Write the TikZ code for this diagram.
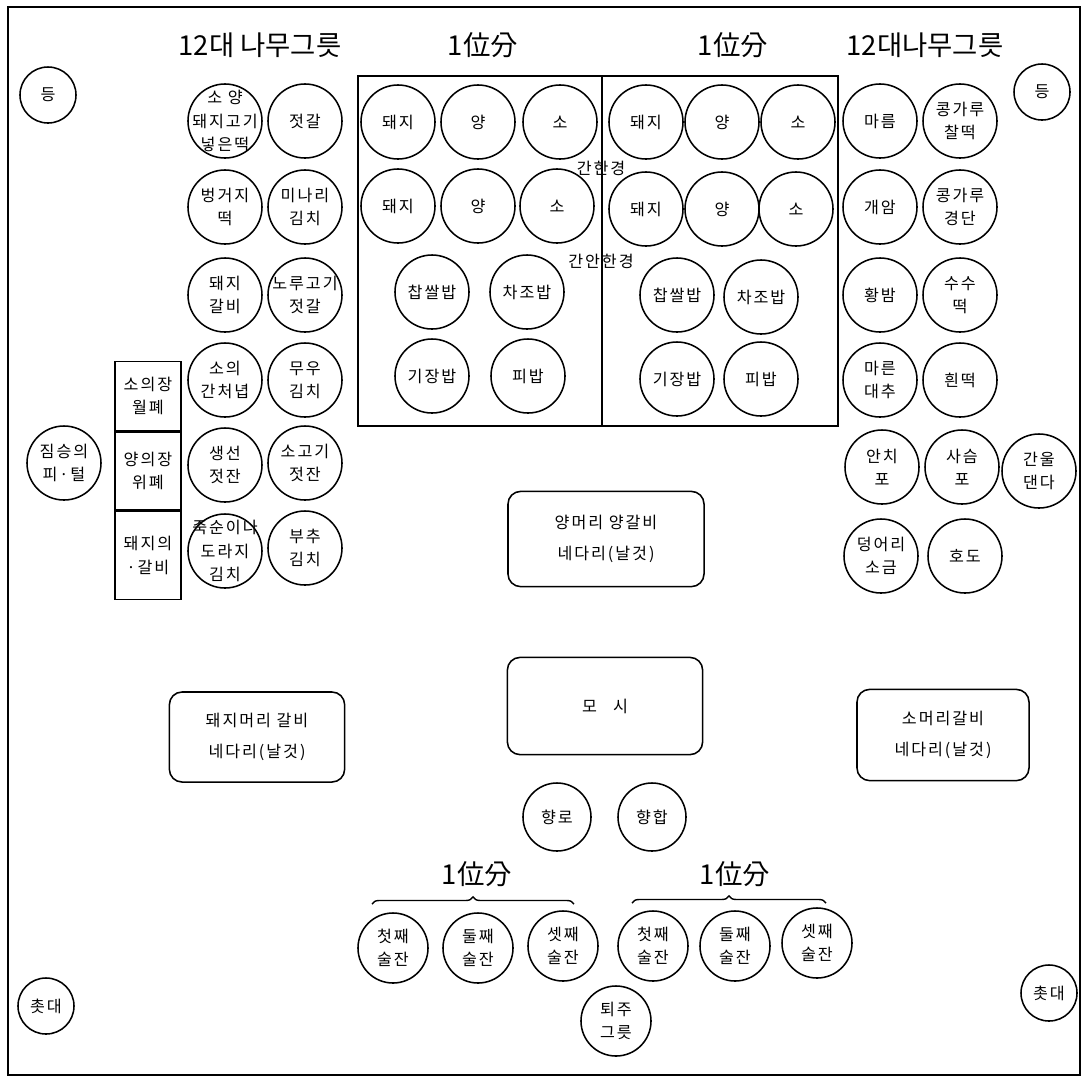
\documentclass[tikz,border=0pt]{standalone}
\usepackage{fontspec}
\setmainfont{Noto Sans CJK KR}
\newfontfamily\dishfont[LetterSpace=12]{Noto Sans CJK KR}
\usetikzlibrary{positioning,decorations.pathreplacing}

\begin{document}
\begin{tikzpicture}[x=0.025cm,y=-0.025cm,
  dish/.style={circle,draw,line width=1.1pt,minimum size=1.85cm,inner sep=-16pt,align=center,font=\dishfont\fontsize{11.5}{16.5}\selectfont},
  lamp/.style={dish,minimum size=1.4cm},
  cup/.style={dish,minimum size=1.75cm},
  tray/.style={draw,line width=1.1pt,rounded corners=9pt,align=center,font=\dishfont\fontsize{11.5}{22}\selectfont},
  organ/.style={draw,line width=1.1pt,minimum width=1.65cm,inner sep=0pt,align=center,font=\dishfont\fontsize{11.5}{16.5}\selectfont},
  head/.style={font=\fontsize{19.5}{22}\selectfont},
  note/.style={font=\dishfont\fontsize{11.5}{13}\selectfont,inner sep=1pt}]
\useasboundingbox (0,0) rectangle (1092,1081);
\draw[line width=1.1pt] (8,7) rectangle (1080,1075);
%
\node[head] (h1) at (260,45){12대 나무그릇};
\node[head] (h2) at (483,45){1位分};
\node[head] (h3) at (733,45){1位分};
\node[head] (h4) at (925,45){12대나무그릇};
\node[lamp] (lamp1) at (48,95){등};
\node[lamp] (lamp2) at (1042,92){등};
\node[lamp] (can1) at (46,1006){촛대};
\node[lamp] (can2) at (1049,993){촛대};
%
\node[dish] (a1) at (225,121){소 양\\돼지고기\\넣은떡};
\node[dish] (a2) at (225,207){벙거지\\떡};
\node[dish] (a3) at (225,295){돼지\\갈비};
\node[dish] (a4) at (225,380){소의\\간처녑};
\node[dish] (a5) at (225,465){생선\\젓잔};
\node[dish] (a6) at (225,551){죽순이나\\도라지\\김치};
\node[dish] (b1) at (305,121){젓갈};
\node[dish] (b2) at (305,207){미나리\\김치};
\node[dish] (b3) at (305,295){노루고기\\젓갈};
\node[dish] (b4) at (305,380){무우\\김치};
\node[dish] (b5) at (305,463){소고기\\젓잔};
\node[dish] (b6) at (305,548){부추\\김치};
\node[organ,minimum height=1.72cm] (o1) at (148,396){소의장\\월폐};
\node[organ,minimum height=1.95cm,below=0pt of o1] (o2){양의장\\위폐};
\node[organ,minimum height=2.2cm,below=0pt of o2] (o3){돼지의\\·갈비};
\node[dish] (blood) at (64,463){짐승의\\피·털};
%
\draw[line width=1.1pt] (358,76) rectangle (838,426);
\draw[line width=1.1pt] (602,76) -- (602,426);
\node[dish] (l1) at (398,122){돼지};
\node[dish] (l2) at (478,122){양};
\node[dish] (l3) at (560,122){소};
\node[dish] (l4) at (398,206){돼지};
\node[dish] (l5) at (478,206){양};
\node[dish] (l6) at (557,206){소};
\node[dish] (l7) at (432,292){찹쌀밥};
\node[dish] (l8) at (527,292){차조밥};
\node[dish] (l9) at (432,376){기장밥};
\node[dish] (l10) at (528,376){피밥};
\node[dish] (r1) at (646,122){돼지};
\node[dish] (r2) at (722,122){양};
\node[dish] (r3) at (798,122){소};
\node[dish] (r4) at (646,209){돼지};
\node[dish] (r5) at (722,209){양};
\node[dish] (r6) at (796,209){소};
\node[dish] (r7) at (677,295){찹쌀밥};
\node[dish] (r8) at (761,297){차조밥};
\node[dish] (r9) at (677,379){기장밥};
\node[dish] (r10) at (761,379){피밥};
\node[note] (salt) at (601,168){간한경};
\node[note] (nosalt) at (601,261){간안한경};
%
\node[dish] (c1) at (880,121){마름};
\node[dish] (c2) at (880,207){개암};
\node[dish] (c3) at (880,295){황밤};
\node[dish] (c4) at (880,380){마른\\대추};
\node[dish] (d1) at (960,121){콩가루\\찰떡};
\node[dish] (d2) at (960,207){콩가루\\경단};
\node[dish] (d3) at (960,295){수수\\떡};
\node[dish] (d4) at (960,380){흰떡};
\node[dish] (e1) at (882,467){안치\\포};
\node[dish] (e2) at (962,467){사슴\\포};
\node[dish] (e3) at (1039,471){간울\\댄다};
\node[dish] (e4) at (881,556){덩어리\\소금};
\node[dish] (e5) at (965,556){호도};
%
\node[tray,minimum width=4.9cm,minimum height=2.38cm] (sheep) at (606,539){양머리 양갈비\\네다리(날것)};
\node[tray,minimum width=4.88cm,minimum height=2.43cm] (mosi) at (605,706){모\quad 시};
\node[tray,minimum width=4.38cm,minimum height=2.25cm] (pig) at (257,737){돼지머리 갈비\\네다리(날것)};
\node[tray,minimum width=4.3cm,minimum height=2.28cm] (cow) at (943,735){소머리갈비\\네다리(날것)};
\node[cup,minimum size=1.7cm] (burner) at (557,817){향로};
\node[cup,minimum size=1.7cm] (box) at (652,817){향합};
%
\node[head] (h5) at (477,874){1位分};
\node[head] (h6) at (735,874){1位分};
\coordinate (bl1) at (372,904);
\coordinate (bl2) at (574,904);
\coordinate (br1) at (632,903);
\coordinate (br2) at (826,903);
\draw[line width=1pt,decorate,decoration={brace,amplitude=5pt}] (bl1) -- (bl2);
\draw[line width=1pt,decorate,decoration={brace,amplitude=5pt}] (br1) -- (br2);
\node[cup] (q1) at (393,948){첫째\\술잔};
\node[cup] (q2) at (478,948){둘째\\술잔};
\node[cup] (q3) at (563,946){셋째\\술잔};
\node[cup] (q4) at (653,946){첫째\\술잔};
\node[cup] (q5) at (735,946){둘째\\술잔};
\node[cup] (q6) at (817,943){셋째\\술잔};
\node[cup] (waste) at (616,1021){퇴주\\그릇};

\end{tikzpicture}
\end{document}
